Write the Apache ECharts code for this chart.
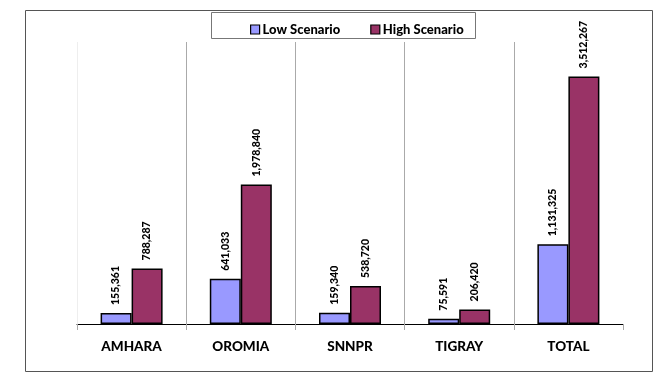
<!DOCTYPE html>
<html>
<head>
<meta charset="utf-8">
<script src="https://cdn.jsdelivr.net/npm/echarts@6/dist/echarts.min.js"></script>
<style>
	html, body { margin: 0; padding: 0; background: #fff; }
	#chart { width: 669px; height: 378px; }
</style>
</head>
<body>
<div id="chart"></div>
<script>
// 区域
var regions = ['AMHARA', 'OROMIA', 'SNNPR', 'TIGRAY', 'TOTAL'];
// 低情景 / 高情景
var lowScenario = [155361, 641033, 159340, 75591, 1131325];
var highScenario = [788287, 1978840, 538720, 206420, 3512267];
var seriesNames = ['Low Scenario', 'High Scenario'];

var fontName = 'Lato, "Open Sans", sans-serif';
var myChart = echarts.init(document.getElementById('chart'));

function valueLabel(p) {
	return p.value.toLocaleString('en-US');
}

var option = {
	animation: false,
	textStyle: { fontFamily: fontName },
	color: ['#9999ff', '#993366'],
	graphic: [{
		type: 'rect',
		shape: { x: 25.5, y: 10.5, width: 627, height: 361 },
		style: { fill: 'none', stroke: '#555', lineWidth: 1 }
	}, {
		type: 'rect',
		shape: { x: 211.5, y: 12.5, width: 264, height: 26 },
		style: { fill: 'none', stroke: '#777', lineWidth: 1 }
	}],
	legend: {
		data: seriesNames,
		left: 245,
		top: 18,
		itemWidth: 9,
		itemHeight: 9,
		itemGap: 30,
		icon: 'rect',
		itemStyle: { borderColor: '#000', borderWidth: 1.2 },
		textStyle: {
			color: '#000',
			fontSize: 13,
			fontWeight: 900,
			fontFamily: fontName,
			padding: [0, 0, 0, -2]
		}
	},
	grid: {
		left: 77,
		right: 46,
		top: 42,
		bottom: 54
	},
	xAxis: {
		type: 'category',
		data: regions,
		axisLine: { lineStyle: { color: '#000', width: 1 } },
		axisTick: { show: true, length: 6, lineStyle: { color: '#aaa' } },
		splitLine: {
			show: true,
			lineStyle: { color: ['#eee', '#aaa', '#aaa', '#aaa', '#aaa', '#fff'] }
		},
		axisLabel: {
			color: '#000',
			fontSize: 13.5,
			fontWeight: 900,
			fontFamily: fontName,
			margin: 16
		}
	},
	yAxis: {
		type: 'value',
		min: 0,
		max: 4000000,
		show: false,
		splitLine: { show: false }
	},
	series: [{
		name: seriesNames[0],
		type: 'bar',
		data: lowScenario,
		barWidth: 31,
		barGap: 0,
		itemStyle: { borderColor: '#000', borderWidth: 1.5 },
		label: {
			show: true,
			position: 'top',
			rotate: 90,
			align: 'left',
			verticalAlign: 'middle',
			distance: 8,
			color: '#000',
			fontSize: 10.5,
			fontWeight: 900,
			fontFamily: fontName,
			formatter: valueLabel
		}
	}, {
		name: seriesNames[1],
		type: 'bar',
		data: highScenario,
		barWidth: 31,
		barGap: 0,
		itemStyle: { borderColor: '#000', borderWidth: 1.5 },
		label: {
			show: true,
			position: 'top',
			rotate: 90,
			align: 'left',
			verticalAlign: 'middle',
			distance: 8,
			color: '#000',
			fontSize: 10.5,
			fontWeight: 900,
			fontFamily: fontName,
			formatter: valueLabel
		}
	}]
};
myChart.setOption(option);
window.addEventListener('resize', function () {
	myChart.resize();
});
</script>
</body>
</html>
